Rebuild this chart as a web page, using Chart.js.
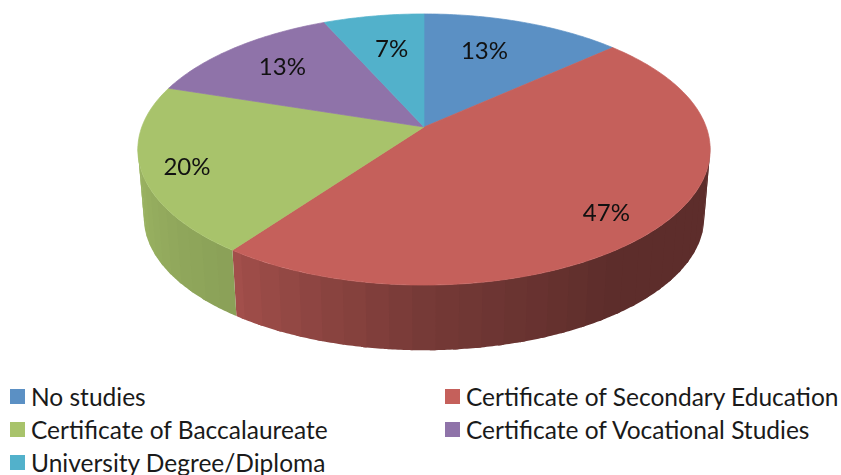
<!DOCTYPE html>
<html>
<head>
<meta charset="utf-8">
<title>Education level</title>
<script src="https://cdn.jsdelivr.net/npm/chart.js@4/dist/chart.umd.min.js"></script>
<style>
  html, body { margin: 0; background: #fff; }
  #wrap { position: relative; width: 841px; height: 475px; overflow: hidden; }
  #chartBox { position: absolute; left: 0; top: 0; width: 841px; height: 380px; }
  #legend { position: absolute; left: 10px; top: 380px; width: 831px;
    display: grid; grid-template-columns: 435px 396px; grid-auto-rows: 33px;
    font: 24.5px Lato, "Open Sans", sans-serif; color: #1a1a1a; }
  .item { display: flex; align-items: center; white-space: nowrap; height: 33px; }
  .swatch { width: 15px; height: 15px; margin-right: 6px; flex: none; }
</style>
</head>
<body>
<div id="wrap">
  <div id="chartBox"><canvas id="myChart"></canvas></div>
  <div id="legend"></div>
</div>
<script>
var categories = ['No studies', 'Certificate of Secondary Education', 'Certificate of Baccalaureate', 'Certificate of Vocational Studies', 'University Degree/Diploma'];
var percents = [13.33, 46.67, 20, 13.33, 6.67];
var colors = ['#5b90c4', '#c5605b', '#a8c36b', '#8f73a9', '#52b1cb'];

// the tilted disc: stretch of the library's circle, perspective, and the wall under it
var tilt = { sx: 2.222, sy: 1.038, k: -0.166, depth: 68.5, shrink: 0.979 };
// where each percent sits inside its slice (fraction of radius, degrees off the middle)
var labelRadius = [0.68, 0.83, 0.85, 0.73, 0.665];
var labelShift = [-3.6, 3.4, -1.8, 0, 1.0];

function project(el, angle, r) {
    var u = r * Math.cos(angle), v = r * Math.sin(angle);
    var w = 1 + tilt.k * v;
    return {
        x: el.x + el.outerRadius * tilt.sx * u / w,
        y: el.y + el.outerRadius * tilt.sy * v / w
    };
}

// wall point under a rim point
function lower(el, p) {
    return {
        x: el.x + (p.x - el.x) * tilt.shrink,
        y: el.y + (p.y - el.y) * tilt.shrink + tilt.depth
    };
}

// how much light the wall gets, by degrees clockwise from the top
function shade(deg) {
    var pts = [[90, 0.47], [145, 0.47], [180, 0.6], [216, 0.82], [270, 0.95]];
    for (var i = 1; i < pts.length; i++) {
        if (deg <= pts[i][0]) {
            var f = (deg - pts[i - 1][0]) / (pts[i][0] - pts[i - 1][0]);
            return pts[i - 1][1] + f * (pts[i][1] - pts[i - 1][1]);
        }
    }
    return 0.95;
}

function darker(hex, f) {
    var n = parseInt(hex.slice(1), 16);
    return 'rgb(' + Math.round((n >> 16) * f) + ',' + Math.round(((n >> 8) & 255) * f) + ',' + Math.round((n & 255) * f) + ')';
}

class Arc3D extends Chart.ArcElement {
    draw(ctx) {
        var el = this.getProps(['x', 'y', 'startAngle', 'endAngle', 'outerRadius']);
        var color = this.options.backgroundColor;
        var rad = Math.PI / 180;

        // wall, in flat facets; each one runs a bit under the next so no seams show
        var from = Math.max(el.startAngle / rad + 90, 98);
        var to = Math.min(el.endAngle / rad + 90, 262);
        for (var d = from; d < to; d += 4) {
            var c = darker(color, shade(d + 2));
            var end = Math.min(d + 5, to);
            ctx.fillStyle = c;
            ctx.beginPath();
            for (var s = d; s <= end; s += 0.5) {
                var a = project(el, (s - 90) * rad, 1);
                if (s === d) ctx.moveTo(a.x, a.y); else ctx.lineTo(a.x, a.y);
            }
            for (var s2 = end; s2 >= d; s2 -= 0.5) {
                var b = lower(el, project(el, (s2 - 90) * rad, 1));
                ctx.lineTo(b.x, b.y);
            }
            ctx.closePath();
            ctx.fill();
        }

        // top face
        ctx.fillStyle = color;
        ctx.strokeStyle = color;
        ctx.lineWidth = 0.7;
        ctx.beginPath();
        ctx.moveTo(el.x, el.y);
        var steps = Math.ceil((el.endAngle - el.startAngle) / rad);
        for (var i = 0; i <= steps; i++) {
            var p = project(el, el.startAngle + (el.endAngle - el.startAngle) * i / steps, 1);
            ctx.lineTo(p.x, p.y);
        }
        ctx.closePath();
        ctx.fill();
        ctx.stroke();
    }
}
Arc3D.id = 'arc3d';
Arc3D.defaults = Chart.ArcElement.defaults;
Arc3D.defaultRoutes = Chart.ArcElement.defaultRoutes;

class Pie3D extends Chart.PieController {}
Pie3D.id = 'pie3d';
Pie3D.defaults = { dataElementType: 'arc3d' };

Chart.register(Arc3D, Pie3D);

var percentLabels = {
    id: 'percentLabels',
    afterDatasetsDraw: function(chart) {
        var ctx = chart.ctx;
        var meta = chart.getDatasetMeta(0);
        ctx.save();
        ctx.font = '24px Lato, "Open Sans", sans-serif';
        ctx.fillStyle = '#111';
        ctx.textAlign = 'center';
        ctx.textBaseline = 'middle';
        meta.data.forEach(function(el, i) {
            var mid = (el.startAngle + el.endAngle) / 2 + labelShift[i] * Math.PI / 180;
            var p = project(el, mid, labelRadius[i]);
            ctx.fillText(Math.round(percents[i]) + '%', p.x, p.y);
        });
        ctx.restore();
    }
};

var htmlLegend = {
    id: 'htmlLegend',
    afterUpdate: function(chart) {
        var box = document.getElementById('legend');
        box.innerHTML = '';
        chart.options.plugins.legend.labels.generateLabels(chart).forEach(function(item) {
            var row = document.createElement('div');
            row.className = 'item';
            var sw = document.createElement('span');
            sw.className = 'swatch';
            sw.style.background = item.fillStyle;
            var txt = document.createElement('span');
            txt.textContent = item.text;
            row.appendChild(sw);
            row.appendChild(txt);
            box.appendChild(row);
        });
    }
};

var chart = new Chart(document.getElementById('myChart').getContext('2d'), {
    type: 'pie3d',
    data: {
        labels: categories,
        datasets: [{
            data: percents,
            backgroundColor: colors,
            borderWidth: 0
        }]
    },
    options: {
        responsive: true,
        maintainAspectRatio: false,
        animation: false,
        layout: { padding: { left: 7, top: 0, right: 0, bottom: 126 } },
        plugins: {
            legend: { display: false },
            tooltip: { enabled: false }
        }
    },
    plugins: [percentLabels, htmlLegend]
});
</script>
</body>
</html>
